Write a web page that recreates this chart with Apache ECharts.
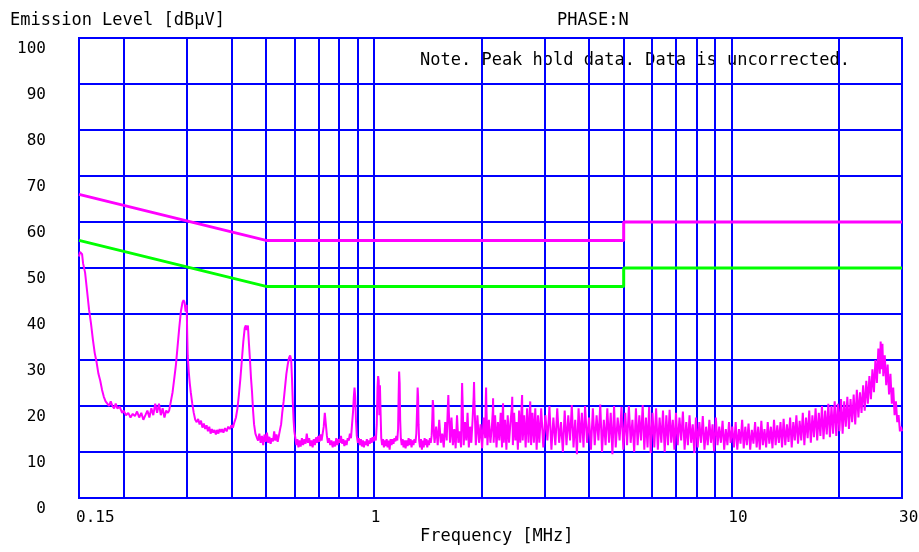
<!DOCTYPE html>
<html>
<head>
<meta charset="utf-8">
<script src="https://cdn.jsdelivr.net/npm/echarts@6/dist/echarts.min.js"></script>
<style>
  html, body { margin: 0; background: #fff; }
  #chart { width: 919px; height: 552px; }
</style>
</head>
<body>
<div id="chart"></div>
<script>
// vertical grid lines (MHz)
const gridFreqs = [0.2, 0.3, 0.4, 0.5, 0.6, 0.7, 0.8, 0.9, 1, 2, 3, 4, 5, 6, 7, 8, 9, 10, 20]

// limit lines [MHz, dBuV]
const qpLimit = [[0.15, 66], [0.5, 56], [5, 56], [5, 60], [30, 60]]
const avLimit = [[0.15, 56], [0.5, 46], [5, 46], [5, 50], [30, 50]]

// peak hold trace [MHz, dBuV]
const traceLow = [
  [0.150, 52.5], [0.151, 53.5], [0.153, 53], [0.154, 51], [0.156, 49], [0.158, 45], [0.160, 41], [0.162, 38],
  [0.164, 34.5], [0.166, 31.5], [0.168, 29.5], [0.170, 27], [0.172, 25.5], [0.174, 23.5], [0.176, 22], [0.178, 21],
  [0.180, 20.5], [0.182, 20], [0.184, 21], [0.186, 20], [0.188, 19.5], [0.190, 20.5], [0.192, 19.5], [0.195, 19.8],
  [0.198, 18.5], [0.200, 19], [0.203, 18], [0.206, 18.5], [0.209, 17.5], [0.212, 18.3], [0.215, 17.8], [0.218, 18.8],
  [0.221, 17.5], [0.224, 18.5], [0.227, 17], [0.230, 18], [0.233, 19], [0.236, 17.5], [0.239, 19.5], [0.242, 18],
  [0.245, 20.5], [0.248, 18.5], [0.251, 20.5], [0.254, 18], [0.257, 19.5], [0.260, 17.5], [0.263, 19], [0.266, 18.5],
  [0.268, 19], [0.271, 21], [0.274, 23], [0.277, 26], [0.280, 29], [0.283, 33], [0.286, 37], [0.289, 40.5],
  [0.292, 42.5], [0.294, 43], [0.296, 42.5], [0.298, 40.5], [0.300, 42], [0.301, 36], [0.302, 31], [0.304, 27.5],
  [0.306, 25], [0.308, 23], [0.311, 20.5], [0.314, 18.5], [0.317, 17], [0.320, 16.5], [0.323, 17.2], [0.326, 16],
  [0.329, 16.8], [0.332, 15.3], [0.335, 16.2], [0.338, 15], [0.341, 15.8], [0.344, 14.5], [0.347, 15.5], [0.350, 14],
  [0.353, 15], [0.356, 14.2], [0.359, 14.8], [0.362, 13.8], [0.365, 14.8], [0.368, 14], [0.371, 15], [0.374, 14.3],
  [0.377, 15], [0.380, 14.2], [0.384, 15.2], [0.388, 14.5], [0.392, 15.5], [0.396, 15], [0.400, 15.8], [0.404, 15.3],
  [0.408, 16.5], [0.412, 17.5], [0.416, 19.5], [0.420, 22.5], [0.424, 26], [0.428, 30], [0.432, 34], [0.436, 37],
  [0.439, 37.5], [0.442, 36.5], [0.445, 37.5], [0.448, 33.5], [0.451, 30], [0.454, 26], [0.457, 23], [0.460, 19],
  [0.463, 16], [0.467, 14], [0.471, 13.2], [0.475, 12.5], [0.479, 14], [0.483, 12], [0.487, 13.5], [0.491, 11.5],
  [0.495, 13.8], [0.499, 12.2], [0.503, 14.2], [0.507, 12], [0.511, 13.3], [0.515, 11.8], [0.519, 13], [0.523, 12.3],
  [0.527, 14.5], [0.531, 12.5], [0.535, 13.8], [0.539, 12.2], [0.543, 13.5], [0.547, 14.8], [0.551, 16], [0.555, 18.5],
  [0.560, 21], [0.565, 24], [0.570, 27], [0.575, 29], [0.580, 30.5], [0.584, 31], [0.588, 30], [0.591, 26],
  [0.594, 21], [0.597, 17], [0.600, 14.5], [0.604, 13], [0.608, 11.5], [0.612, 12.8], [0.616, 11], [0.620, 12.5],
  [0.625, 11.2], [0.630, 13], [0.635, 11.5], [0.640, 12.8], [0.645, 11.8], [0.650, 14], [0.655, 12], [0.660, 13],
  [0.665, 11.3], [0.670, 12.5], [0.675, 11], [0.680, 12.8], [0.685, 11.5], [0.690, 13.2], [0.695, 12], [0.700, 13.5],
  [0.705, 12.2], [0.710, 13.8], [0.715, 12.5], [0.720, 14], [0.725, 15.5], [0.730, 18.5], [0.735, 16], [0.740, 13.5],
  [0.745, 12], [0.750, 13], [0.756, 11.5], [0.762, 12.5], [0.768, 11], [0.774, 12.3], [0.780, 11.2], [0.786, 13],
  [0.792, 11.5], [0.798, 12.8], [0.804, 12], [0.810, 13.5], [0.816, 11.8], [0.822, 12.8], [0.828, 11.3], [0.834, 12.5],
  [0.840, 11.5], [0.846, 13], [0.852, 12.5], [0.858, 14], [0.864, 13], [0.870, 16], [0.876, 19], [0.880, 22],
  [0.884, 24], [0.888, 22], [0.892, 17], [0.897, 13.5], [0.903, 12], [0.909, 13], [0.915, 11.5], [0.921, 12.8],
  [0.927, 11.2], [0.933, 12.5], [0.939, 11], [0.945, 12.3], [0.951, 11.5], [0.957, 12.8], [0.963, 11.3], [0.969, 12.5],
  [0.975, 11.8], [0.981, 13], [0.987, 12], [0.993, 13.2], [1.000, 12.3], [1.007, 13.5], [1.014, 12.5], [1.020, 16],
  [1.025, 24], [1.029, 26.5], [1.033, 25.5], [1.037, 18], [1.041, 24.5], [1.045, 19], [1.050, 13], [1.056, 11.5],
  [1.062, 12.8], [1.068, 11], [1.074, 12.5], [1.080, 11.3], [1.087, 12.8], [1.094, 11], [1.101, 12.5], [1.108, 10.5],
  [1.115, 12.8], [1.122, 11.5], [1.129, 12.8], [1.136, 11.8], [1.143, 13], [1.150, 12.3], [1.157, 13.5], [1.164, 12.5],
  [1.170, 15], [1.174, 22], [1.178, 27.5], [1.182, 25], [1.186, 17], [1.191, 13], [1.198, 11.5], [1.205, 12.8],
  [1.212, 11], [1.220, 12.5], [1.228, 10.8], [1.236, 12.5], [1.244, 11.3], [1.252, 13], [1.260, 11.5], [1.268, 12.8],
  [1.276, 11], [1.284, 12.5], [1.292, 11.5], [1.300, 12.8], [1.308, 12], [1.316, 14], [1.322, 19], [1.327, 24],
  [1.331, 22], [1.335, 16], [1.340, 12.5], [1.348, 11], [1.356, 12.8], [1.364, 10.5], [1.372, 12.5], [1.380, 11],
  [1.388, 13], [1.396, 11.5], [1.404, 12.8], [1.412, 11], [1.420, 12.5], [1.428, 11.5], [1.436, 13], [1.444, 12],
  [1.452, 13.5], [1.458, 17], [1.463, 21.3], [1.468, 20], [1.473, 14]
]

const traceMid = [
  [1.480, 12], [1.495, 15.5], [1.51, 11.5], [1.525, 17], [1.54, 12], [1.555, 14], [1.57, 11], [1.585, 16.5],
  [1.60, 12.5], [1.612, 20], [1.617, 22.4], [1.622, 19], [1.635, 12], [1.65, 17.5], [1.665, 11.5], [1.68, 15],
  [1.695, 10.8], [1.71, 18], [1.725, 12], [1.74, 14.5], [1.755, 11], [1.763, 21], [1.767, 25], [1.771, 22],
  [1.785, 11.5], [1.80, 16.5], [1.815, 12.5], [1.83, 18.5], [1.845, 11], [1.86, 15.5], [1.875, 12], [1.89, 17],
  [1.903, 22], [1.908, 25.2], [1.913, 21], [1.93, 11.5], [1.95, 18], [1.97, 12], [1.99, 16], [2.01, 10.8],
  [2.03, 17.5], [2.05, 13], [2.058, 21.5], [2.062, 24], [2.066, 20], [2.08, 11.5], [2.10, 17], [2.12, 12],
  [2.14, 15.5], [2.153, 19], [2.157, 21.7], [2.165, 12], [2.185, 18], [2.205, 11], [2.225, 16.5], [2.245, 12.5],
  [2.265, 18.5], [2.285, 11], [2.295, 19], [2.300, 20.6], [2.31, 12], [2.33, 17], [2.35, 10.5], [2.37, 18],
  [2.39, 12], [2.41, 16], [2.435, 20], [2.44, 22], [2.45, 11.5], [2.47, 18.5], [2.49, 12.5], [2.51, 16.5],
  [2.53, 10.5], [2.55, 19], [2.57, 12], [2.595, 21], [2.60, 22.4], [2.61, 12.5], [2.635, 18], [2.66, 11],
  [2.685, 19.5], [2.71, 12], [2.735, 20], [2.74, 21], [2.755, 11.5], [2.78, 18.5], [2.805, 12], [2.83, 19.5],
  [2.855, 10.5], [2.88, 18], [2.905, 12],
  [2.94, 19.5], [2.98, 11], [3.02, 18], [3.06, 12.5], [3.10, 20], [3.14, 10.5], [3.18, 17.5], [3.22, 11.5],
  [3.26, 19.5], [3.30, 12], [3.34, 16.5], [3.38, 10], [3.42, 19], [3.46, 11.5], [3.50, 18], [3.54, 12.5],
  [3.58, 20.2], [3.62, 11], [3.66, 17], [3.70, 9.5], [3.74, 19.5], [3.78, 12], [3.82, 18.5], [3.86, 11],
  [3.90, 20], [3.95, 12], [4.00, 17.5], [4.05, 10.5], [4.10, 19.5], [4.15, 11.5], [4.20, 18], [4.25, 12.5],
  [4.30, 20.3], [4.35, 10], [4.40, 17], [4.45, 11.5], [4.50, 19.5], [4.55, 12], [4.60, 18.5], [4.65, 9.5],
  [4.70, 20], [4.75, 11], [4.81, 17.5], [4.87, 12.5], [4.93, 19.8], [4.99, 10.5], [5.05, 18.5], [5.11, 11.5],
  [5.17, 20], [5.23, 12], [5.29, 17], [5.35, 10], [5.41, 19.5], [5.47, 11.5], [5.53, 18], [5.59, 12.5],
  [5.65, 20.2], [5.71, 10.5], [5.77, 17.5], [5.83, 11], [5.89, 19.8], [5.95, 9.8]
]

const traceHigh = [
  [6.02, 18.5], [6.09, 11], [6.16, 19.5], [6.23, 10.5], [6.30, 17.5], [6.37, 12], [6.44, 19], [6.51, 10],
  [6.58, 18], [6.65, 11.5], [6.72, 19.2], [6.79, 12], [6.86, 17], [6.93, 10.5], [7.00, 18.5], [7.08, 11.5],
  [7.16, 17.5], [7.24, 12.5], [7.32, 18.8], [7.40, 10.5], [7.48, 16.5], [7.56, 11.5], [7.64, 18], [7.72, 12],
  [7.80, 16], [7.88, 9.8], [7.96, 17.5], [8.05, 11], [8.14, 16.5], [8.23, 12], [8.32, 17.8], [8.41, 10.5],
  [8.50, 15.5], [8.59, 11.5], [8.68, 17], [8.77, 12], [8.86, 16], [8.95, 10.2], [9.05, 17.5], [9.15, 11.5],
  [9.25, 15.5], [9.35, 12], [9.45, 16.8], [9.55, 10.5], [9.65, 15], [9.75, 11.5], [9.85, 16.5], [9.95, 12],
  [10.06, 15.5], [10.17, 11], [10.28, 16.5], [10.39, 10.5], [10.50, 15], [10.61, 11.8], [10.72, 17], [10.83, 10.8],
  [10.94, 15.5], [11.05, 11.5], [11.17, 16.2], [11.29, 10.5], [11.41, 14.8], [11.53, 11.8], [11.65, 16.5], [11.77, 11],
  [11.89, 15.5], [12.01, 10.5], [12.13, 16.8], [12.25, 11.5], [12.38, 15], [12.51, 11], [12.64, 16.5], [12.77, 11.8],
  [12.90, 15.5], [13.03, 10.8], [13.16, 17], [13.30, 11.5], [13.44, 15.8], [13.58, 12], [13.72, 16.5], [13.86, 11],
  [14.00, 17.2], [14.15, 11.5], [14.30, 16], [14.45, 12.2], [14.60, 17.5], [14.75, 11], [14.90, 16.5], [15.05, 12.5],
  [15.20, 18], [15.36, 11.8], [15.52, 16.8], [15.68, 12.5], [15.84, 18.5], [16.00, 11.5], [16.17, 17.5], [16.34, 13],
  [16.51, 19], [16.68, 12], [16.85, 18], [17.02, 13.2], [17.20, 19.5], [17.38, 12.5], [17.56, 18.5], [17.74, 13.5],
  [17.92, 20], [18.10, 12.8], [18.29, 19], [18.48, 13.8], [18.67, 20.5], [18.86, 13.2], [19.05, 20], [19.25, 14],
  [19.45, 21], [19.65, 13.5], [19.85, 20.5], [20.05, 14.5], [20.26, 21.5], [20.47, 14], [20.68, 21], [20.89, 15.5],
  [21.10, 22], [21.32, 15], [21.54, 21.5], [21.76, 16.5], [21.98, 22.5], [22.20, 16], [22.43, 23.5], [22.66, 17.5],
  [22.89, 23], [23.12, 18.5], [23.36, 24.5], [23.60, 19], [23.84, 25.5], [24.08, 20.5], [24.32, 26.5], [24.56, 21.5],
  [24.80, 28], [25.04, 23], [25.28, 30], [25.52, 25], [25.76, 32.5], [26.00, 27], [26.15, 34], [26.30, 28],
  [26.45, 33.5], [26.60, 26.5], [26.85, 31], [27.10, 24.5], [27.35, 29], [27.60, 22.5], [27.85, 27], [28.10, 20.5],
  [28.35, 24], [28.60, 18], [28.85, 21], [29.10, 16.5], [29.35, 18], [29.60, 14.5], [29.80, 15.5], [30.00, 14.5]
]

const trace = traceLow.concat(traceMid, traceHigh)

const BLUE = '#0000ff'
const MAGENTA = '#ff00ff'
const GREEN = '#00ff00'
const MONO = '"DejaVu Sans Mono", "Liberation Mono", monospace'

const chart = echarts.init(document.getElementById('chart'))

chart.setOption({
  animation: false,
  backgroundColor: '#fff',
  grid: {
    left: 79, right: 17, top: 38, bottom: 54,
    outerBoundsMode: 'none',
    containLabel: false,
    show: true, borderColor: BLUE, borderWidth: 2,
  },
  xAxis: {
    type: 'log',
    logBase: 10,
    min: 0.15,
    max: 30,
    axisLine: {lineStyle: {color: BLUE, width: 2}},
    axisTick: {show: false},
    splitLine: {show: false},
    axisLabel: {
      color: '#000',
      fontFamily: MONO,
      fontSize: 16,
      align: 'left',
      margin: 12,
      padding: [0, 0, 0, -3],
      formatter: v => String(+(+v).toPrecision(3)),
    },
  },
  yAxis: {
    type: 'value',
    min: 0,
    max: 100,
    interval: 10,
    axisLine: {show: true, lineStyle: {color: BLUE, width: 2}},
    axisTick: {show: false},
    splitLine: {lineStyle: {color: BLUE, width: 2}},
    axisLabel: {
      color: '#000',
      fontFamily: MONO,
      fontSize: 16,
      margin: 33,
      verticalAlign: 'top',
      padding: [3, 0, 0, 0],
    },
  },
  graphic: [
    {type: 'text', left: 10, top: 12, style: {text: 'Emission Level [dBμV]', font: '17px ' + MONO, fill: '#000'}},
    {type: 'text', left: 557, top: 12, style: {text: 'PHASE:N', font: '17px ' + MONO, fill: '#000'}},
    {type: 'text', left: 420, top: 52, style: {text: 'Note. Peak hold data. Data is uncorrected.', font: '17px ' + MONO, fill: '#000'}},
    {type: 'text', left: 420, top: 528, style: {text: 'Frequency [MHz]', font: '17px ' + MONO, fill: '#000'}},
  ],
  series: [
    {
      name: 'trace',
      type: 'line',
      data: trace,
      showSymbol: false,
      lineStyle: {color: MAGENTA, width: 2},
      silent: true,
    },
    {
      name: 'AV',
      type: 'line',
      data: avLimit,
      showSymbol: false,
      lineStyle: {color: GREEN, width: 3},
      silent: true,
      markLine: {
        z: 1,
        silent: true,
        symbol: ['none', 'none'],
        label: {show: false},
        lineStyle: {color: BLUE, width: 2, type: 'solid'},
        data: gridFreqs.map(f => ({xAxis: f})),
      },
    },
    {
      name: 'QP',
      type: 'line',
      data: qpLimit,
      showSymbol: false,
      lineStyle: {color: MAGENTA, width: 3},
      silent: true,
    },
  ],
})
</script>
</body>
</html>
